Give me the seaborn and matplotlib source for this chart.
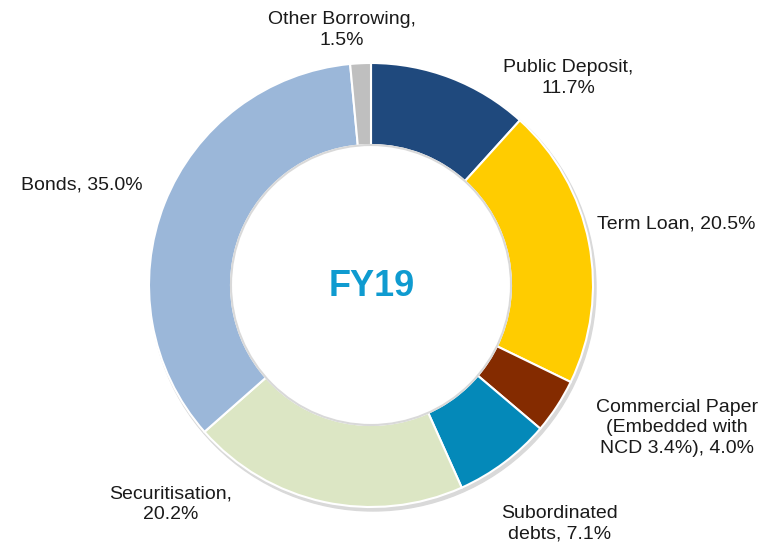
import matplotlib
matplotlib.use("Agg")
import matplotlib.pyplot as plt
import seaborn as sns

# Borrowing mix, FY19 (clockwise from 12 o'clock)
categories = ["Public Deposit", "Term Loan", "Commercial Paper", "Subordinated debts",
              "Securitisation", "Bonds", "Other Borrowing"]
shares = [11.7, 20.5, 4.0, 7.1, 20.2, 35.0, 1.5]
label_texts = ["Public Deposit,\n11.7%", "Term Loan, 20.5%",
               "Commercial Paper\n(Embedded with\nNCD 3.4%), 4.0%",
               "Subordinated\ndebts, 7.1%", "Securitisation,\n20.2%",
               "Bonds, 35.0%", "Other Borrowing,\n1.5%"]
colors = ["#1F497D", "#FFCC00", "#842B00", "#0489B9", "#DCE6C4", "#9BB7D9", "#BFBFBF"]

# label anchor points in pixel space (x, y from top)
label_pos = [(568, 78), (676, 224), (677, 428), (560, 524), (171, 504), (82, 185), (342, 30)]

sns.set_theme(style="white")
plt.rcParams["font.family"] = ["Liberation Sans", "DejaVu Sans"]

W, H = 772, 546
fig = plt.figure(figsize=(W / 100, H / 100), dpi=100)
ax = fig.add_axes([0, 0, 1, 1])

cx, cy = 371, H - 285
r_out, r_in = 222, 140

# faint shadow ring
shadow = plt.Circle((cx + 2, cy - 3), r_out + 1, color="#d9d9d9", zorder=0)
ax.add_patch(shadow)

ax.pie(shares, colors=colors, startangle=90, counterclock=False,
       center=(cx, cy), radius=r_out, frame=True,
       wedgeprops=dict(width=r_out - r_in, edgecolor="white", linewidth=1.5))
ax.set_xlim(0, W)
ax.set_ylim(0, H)
ax.set_aspect("equal")
ax.axis("off")

inner = plt.Circle((cx, cy), r_in, facecolor="white", edgecolor="#d9d9d9", linewidth=1.5, zorder=3)
ax.add_patch(inner)

for txt, (px, py) in zip(label_texts, label_pos):
    ax.text(px, H - py, txt, ha="center", va="center", fontsize=14,
            color="#1a1a1a", linespacing=1.25, zorder=5)

ax.text(cx + 1, cy - 2, "FY19", ha="center", va="center", fontsize=26,
        fontweight="bold", color="#0F9BD0", zorder=5)

fig.savefig("out.png", dpi=100, facecolor="white")
